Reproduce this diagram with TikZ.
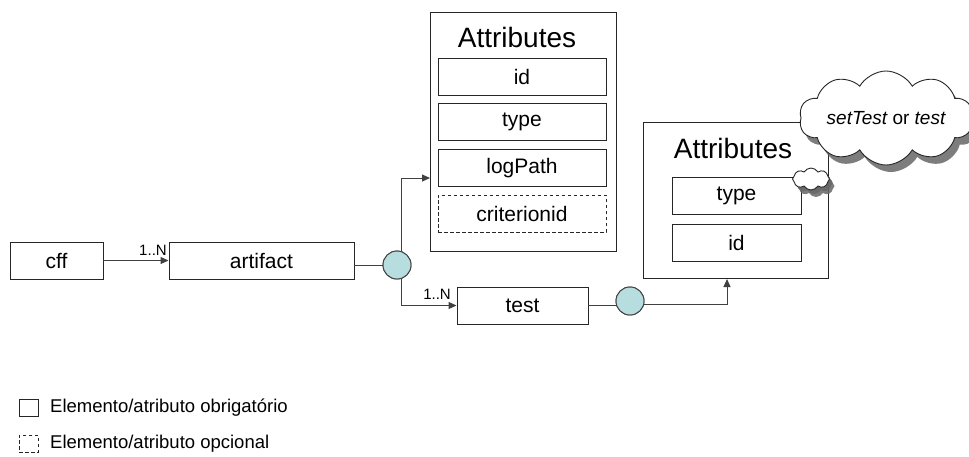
\documentclass[tikz,border=0pt]{standalone}
\usepackage{fontspec}
\setmainfont{Liberation Sans}
\usetikzlibrary{shapes.symbols,shadows,arrows.meta}

\definecolor{linegray}{HTML}{404040}
\definecolor{joint}{HTML}{B7DDDF}

\tikzset{
  elem/.style={draw=black!85, line width=0.95pt, inner sep=0pt,
    font=\fontsize{21}{24}\selectfont, minimum height=37pt},
  optelem/.style={elem, dashed, dash pattern=on 3.5pt off 2.5pt},
  group/.style={draw=black!85, line width=0.95pt, inner sep=0pt},
  grouptitle/.style={font=\fontsize{28}{30}\selectfont, inner sep=0pt},
  card/.style={font=\fontsize{15}{17}\selectfont, inner sep=0pt},
  joinpt/.style={circle, draw=linegray, fill=joint, line width=0.95pt,
    minimum size=28pt, inner sep=0pt},
  conn/.style={draw=linegray, line width=1pt},
  arr/.style={conn, -{Triangle[length=8pt,width=7pt]}},
  note/.style={cloud, cloud puffs=10, cloud puff arc=120, cloud ignores aspect,
    draw=black!85, fill=white, line width=0.9pt,
    drop shadow={shadow xshift=5pt, shadow yshift=-7pt, fill=black!60, opacity=0.85}},
  legtext/.style={font=\fontsize{18.5}{20}\selectfont, inner sep=0pt, anchor=west}
}

\begin{document}
\begin{tikzpicture}[x=1pt,y=-1pt]
\useasboundingbox (0,0) rectangle (969,456);

% main elements
\node[elem, minimum width=93pt]  (cff)      at (56.5,260.5) {cff};
\node[elem, minimum width=185pt] (artifact) at (261.5,260.5) {artifact};
\node[elem, minimum width=131pt] (test)     at (522.5,305.5) {test};

% attributes of artifact
\node[group, minimum width=186pt, minimum height=239pt] (attrA) at (523,131.5) {};
\node[grouptitle] (attrAt) at (517,37) {Attributes};
\node[elem, minimum width=168pt] (aid)   at (522,76.5)  {id};
\node[elem, minimum width=168pt] (atype) at (522,122)   {type};
\node[elem, minimum width=168pt] (alog)  at (522,168)   {logPath};
\node[optelem, minimum width=168pt] (acrit) at (522,213.5) {criterionid};

% attributes of test
\node[group, minimum width=185pt, minimum height=156pt] (attrB) at (735.5,200) {};
\node[grouptitle] (attrBt) at (733,148) {Attributes};
\node[elem, minimum width=129pt] (btype) at (736.5,196) {type};
\node[elem, minimum width=129pt] (bid)   at (736.5,242.5) {id};

% connection points
\coordinate (inA) at (430,178);
\coordinate (inB) at (727,279);

% connectors
\draw[arr] (cff.east) -- (artifact.west);
\node[card, anchor=south] (c1) at (153,256) {1..N};

\node[joinpt] (j1) at (397,265) {};
\node[joinpt] (j2) at (630,301) {};

\draw[conn] (artifact.east |- j1) -- (j1.west);
\draw[arr] (j1.72) |- (inA);
\draw[arr] (j1.-72) |- (test.west);
\node[card, anchor=south] (c2) at (437,300) {1..N};

\draw[conn] (test.east) -- (j2.west |- test.east);
\draw[arr] (j2.-15) -| (inB);

% redraw joints on top of the lines
\node[joinpt] at (j1) {};
\node[joinpt] at (j2) {};

% annotation clouds
\node[note, minimum width=166pt, minimum height=94pt] (cl) at (886,118)
  {\fontsize{19}{22}\selectfont\itshape setTest\upshape\ or \itshape test};
\node[note, cloud puffs=8, minimum width=37pt, minimum height=22pt,
  drop shadow={shadow xshift=3pt, shadow yshift=-4pt, fill=black!60, opacity=0.85}]
  (cls) at (811,179) {};

% legend
\node[draw=black!85, line width=0.95pt, minimum width=19pt, minimum height=17pt,
  inner sep=0pt] (lg1) at (28.5,407.5) {};
\node[legtext] (lt1) at (50,408) {Elemento/atributo obrigatório};
\node[draw=black!85, line width=0.95pt, dashed, dash pattern=on 3.5pt off 2.5pt,
  minimum width=19pt, minimum height=17pt, inner sep=0pt] (lg2) at (28.5,443.5) {};
\node[legtext] (lt2) at (50,444) {Elemento/atributo opcional};
\end{tikzpicture}
\end{document}
